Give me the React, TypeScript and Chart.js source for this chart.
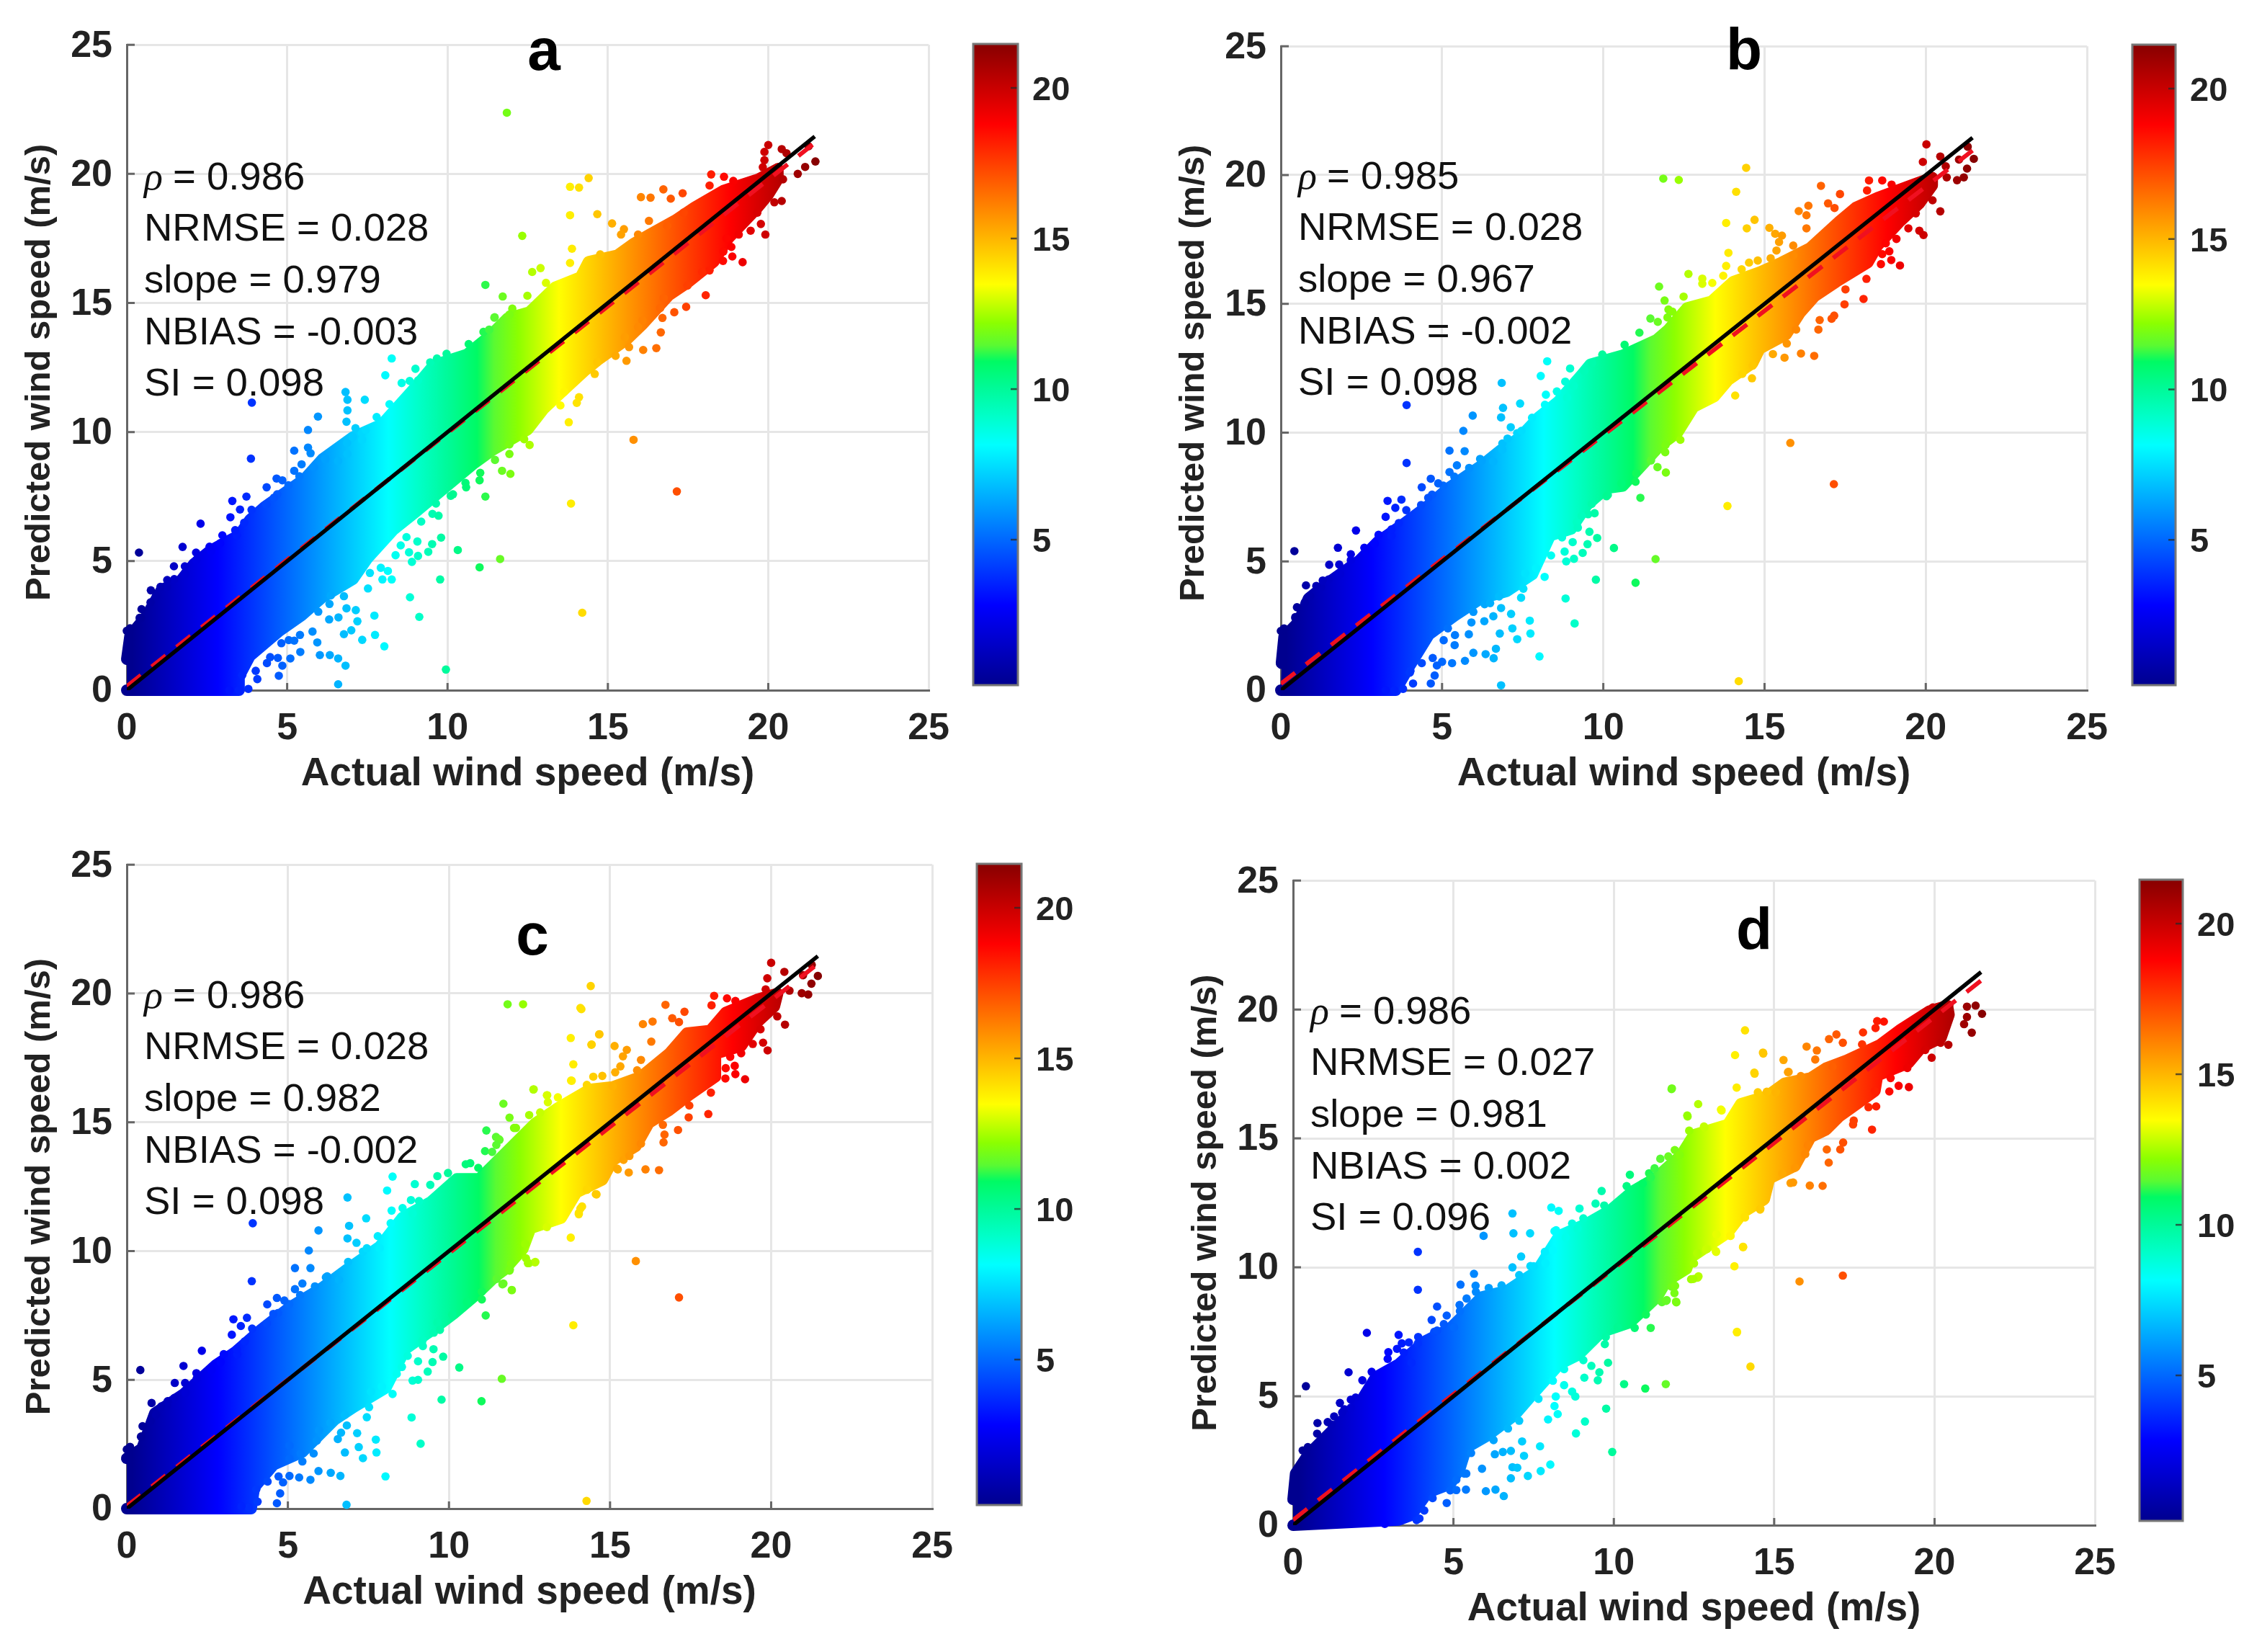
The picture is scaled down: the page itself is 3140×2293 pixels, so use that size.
import { useEffect, useRef } from 'react';
import { Chart, registerables } from 'chart.js';

type Pt = [number, number];

const FONT = '"Liberation Sans", Arial, sans-serif';
const C_MIN = 0.17;
const C_MAX = 21.46;

const barTicks = [5, 10, 15, 20];
const identityLine: Pt[] = [[0, 0], [21.45, 21.45]];
const fitLineA: Pt[] = [[0, 0.15], [21.45, 21.2]];
const fitLineB: Pt[] = [[0, 0.25], [21.45, 20.95]];
const fitLineC: Pt[] = [[0, 0.1], [21.45, 21.15]];
const fitLineD: Pt[] = [[0, 0.2], [21.45, 21.12]];

const statsA = ['= 0.986', 'NRMSE = 0.028', 'slope = 0.979', 'NBIAS = -0.003', 'SI = 0.098'];
const statsB = ['= 0.985', 'NRMSE = 0.028', 'slope = 0.967', 'NBIAS = -0.002', 'SI = 0.098'];
const statsC = ['= 0.986', 'NRMSE = 0.028', 'slope = 0.982', 'NBIAS = -0.002', 'SI = 0.098'];
const statsD = ['= 0.986', 'NRMSE = 0.027', 'slope = 0.981', 'NBIAS = 0.002', 'SI = 0.096'];

// colour scale of the picture: position on the bar, then r, g, b
const colorStops: [number, number, number, number][] = [
  [0, 0, 0, 143], [0.125, 0, 0, 255], [0.375, 0, 255, 255], [0.42, 0, 255, 200], [0.465, 0, 250, 150],
  [0.505, 0, 250, 100], [0.53, 90, 250, 50], [0.565, 140, 255, 0], [0.625, 255, 255, 0],
  [0.875, 255, 0, 0], [1, 135, 0, 0],
];

// outline of the solid part of each cloud
const cloudTopA: Pt[] = [[0, 1.2], [0.1, 2.1], [0.63, 2.9], [0.86, 3.4], [1.09, 3.9], [1.66, 4.2], [2.1, 4.9], [2.6, 5.4], [3.04, 5.7], [3.5, 6], [3.84, 6.6], [4.3, 7.1], [4.99, 7.7], [5.56, 8.2], [6.1, 8.95], [7.05, 9.8], [7.96, 10.3], [8.9, 11.6], [9.58, 12.6], [10.6, 13], [11.3, 13.7], [11.87, 14.4], [12.56, 14.65], [13.35, 15.6], [14.15, 16], [14.4, 16.6], [15.3, 16.85], [15.8, 17.3], [16.3, 17.65], [17.1, 18.2], [17.7, 18.7], [18.6, 19.35], [19.7, 19.8], [20.3, 20.2]];
const cloudBottomA: Pt[] = [[20.3, 19.8], [20, 19.2], [19.6, 18.6], [18.75, 17.5], [18.3, 16.6], [17.5, 15.8], [16.9, 15.3], [16.1, 14.2], [15.6, 13.6], [14.7, 12.8], [14.3, 12.4], [13.6, 11.6], [13, 10.9], [12.5, 10.1], [12.1, 9.8], [11.4, 9.3], [10.84, 8.8], [10.26, 8.2], [9.58, 7.5], [9, 6.9], [8.3, 6.2], [7.5, 5.1], [7.05, 4.3], [6.1, 3.6], [5.45, 2.9], [4.76, 2.3], [3.84, 1.33], [3.5, 0.53], [3.5, 0], [0, 0]];
const cloudTopB: Pt[] = [[0.02, 1.05], [0.1, 2.07], [0.54, 2.63], [0.86, 3.56], [1.5, 4.2], [2.45, 5.05], [3, 5.75], [3.8, 6.45], [4.6, 7.2], [5.2, 7.85], [6.2, 8.7], [6.8, 9.3], [7.4, 9.8], [8, 10.6], [8.6, 11.2], [9.3, 12.2], [9.6, 12.65], [10.6, 13], [11.65, 13.6], [12.02, 14], [12.6, 14.84], [13.36, 15.1], [14.03, 15.86], [14.85, 16.23], [15.52, 16.6], [16.41, 17.16], [17.31, 18.19], [17.83, 18.74], [18.5, 19.12], [19.54, 19.6], [20.2, 19.9]];
const cloudBottomB: Pt[] = [[20.2, 19.6], [19.8, 18.9], [19.2, 18.2], [18.5, 17.26], [18.2, 16.6], [17.23, 15.86], [16.56, 15.3], [16.1, 14.65], [15.67, 13.81], [14.85, 13.26], [14.63, 12.7], [13.88, 12.05], [13.44, 11.4], [12.8, 11], [12.3, 10], [11.76, 9.5], [11.1, 8.6], [10.6, 7.93], [10.1, 7.84], [9.5, 7.2], [9, 6.26], [8.35, 6], [7.8, 4.5], [7, 3.84], [6.2, 3.56], [5.4, 2.9], [4.6, 2.17], [3.96, 0.87], [3.56, 0], [0, 0]];
const cloudTopC: Pt[] = [[0, 1.95], [0.47, 2.33], [0.87, 3.7], [1.76, 4.44], [2.76, 5.57], [3.36, 6.07], [4.16, 6.94], [5.05, 7.81], [6.05, 8.56], [6.85, 9.3], [7.85, 10.17], [8.55, 11.29], [9.44, 11.91], [10.24, 12.8], [10.94, 12.8], [11.83, 13.9], [12.69, 14.97], [13.4, 15.57], [14.36, 16.27], [15.08, 16.37], [15.96, 16.77], [16.84, 17.67], [17.39, 18.46], [18.11, 18.56], [18.59, 19.26], [19.55, 19.76], [20.2, 20]];
const cloudBottomC: Pt[] = [[20.1, 19.5], [19.55, 18.86], [19.07, 17.96], [18.27, 17.66], [18.27, 16.77], [17.47, 16.07], [16.84, 15.47], [16.2, 14.97], [15.8, 14.07], [15.08, 13.52], [14.76, 12.77], [13.96, 12.28], [13.48, 11.28], [12.53, 10.88], [12.29, 10.08], [11.73, 9.28], [11.41, 8.98], [10.84, 8.3], [10.14, 7.56], [9.34, 6.81], [8.64, 6.19], [8.04, 4.69], [7.05, 3.95], [6.45, 3.45], [5.45, 2.2], [4.56, 1.71], [3.96, 0.83], [3.86, 0], [0, 0]];
const cloudTopD: Pt[] = [[0, 1], [0.08, 2], [0.48, 2.75], [0.98, 3.37], [2.08, 4.74], [2.58, 5.74], [3.29, 6.24], [4.09, 7.12], [4.89, 7.62], [5.89, 8.85], [6.69, 9.1], [7.6, 9.85], [8.3, 11.22], [9.2, 11.72], [9.9, 12.22], [10.6, 12.96], [11.3, 13.46], [12.1, 14.35], [12.5, 15.14], [13.56, 15.54], [13.96, 16.34], [14.77, 16.64], [15.33, 17.14], [16.13, 17.34], [16.62, 17.73], [17.26, 18.03], [18.3, 18.63], [18.95, 19.23], [19.83, 19.93], [20.4, 20.15]];
const cloudBottomD: Pt[] = [[20.45, 19.8], [20.2, 18.9], [19.59, 18.53], [19.19, 17.93], [18.22, 17.44], [18.14, 16.84], [17.58, 16.34], [17.02, 15.84], [16.62, 15.34], [16.13, 15.04], [15.65, 13.94], [14.85, 13.44], [14.69, 12.64], [14.04, 12.14], [13.56, 11.35], [12.36, 10.35], [12.27, 9.95], [11.63, 9.45], [11.35, 8.85], [10.5, 7.86], [9.6, 7.48], [8.9, 6.61], [8.3, 6.24], [7.5, 5.12], [6.89, 4.25], [6.09, 3.5], [5.4, 3], [5.2, 2.2], [4.9, 1.6], [4.19, 1.26], [3.69, 0.39], [3.29, 0.2], [0, 0]];

// bumps on the rim of the solid cloud
const rimABC: Pt[] = [[0, 2.3], [0.1, 2.4], [0.45, 2.8], [0.74, 3.4], [0.91, 3.65], [1.25, 4], [1.48, 4.3], [1.82, 4.5], [2.17, 5.05], [2.63, 5.39], [2.91, 5.69], [3.43, 5.99], [3.66, 6.49], [3.89, 6.99], [4.35, 7.19], [4.69, 7.59], [5.04, 7.94], [5.38, 8.29], [5.84, 8.63], [6.18, 8.98], [6.59, 8.88], [6.87, 9.58], [7.33, 9.98], [7.79, 10.58], [8.19, 11.08], [8.82, 11.98], [9.97, 13.03], [10.66, 13.41], [11.12, 13.88], [11.46, 14.43], [12.02, 14.78], [12.49, 15.28], [13.07, 15.78], [3.79, 0.05], [4.02, 0.75], [4.37, 1.05], [4.71, 1.25], [5.05, 1.94], [5.4, 2.14], [5.97, 3.04], [6.32, 3.34], [6.77, 3.64], [7.52, 3.94], [7.58, 4.54], [7.92, 4.74], [8.38, 5.23], [8.72, 5.93], [9.18, 6.53], [9.53, 6.83], [9.64, 7.23], [10.1, 7.53], [10.56, 8.03], [11.02, 8.42], [11.48, 8.92], [11.93, 9.52], [12.39, 9.72]];
const rimD: Pt[] = [[0.3, 2.9], [0.75, 3.55], [1.2, 3.9], [1.6, 4.5], [1.95, 4.95], [2.45, 5.95], [2.95, 6.45], [3.45, 6.7], [3.9, 7.3], [4.4, 7.5], [4.7, 7.8], [5.2, 8.3], [5.7, 9.05], [6.1, 9.2], [6.5, 9.3], [7.05, 9.7], [7.4, 10.05], [7.85, 10.6], [8.15, 11.4], [8.7, 11.7], [9.05, 11.9], [9.7, 12.4], [10.4, 13.15], [11.1, 13.65], [11.9, 14.55], [12.35, 15.3], [3.85, 0.2], [4.35, 1.05], [4.9, 1.35], [5.4, 2], [5.55, 2.8], [6.25, 3.3], [6.7, 3.75], [7.05, 4.05], [7.65, 4.9], [8.1, 5.6], [8.45, 6.05], [9.05, 6.4], [9.75, 7.3], [10.65, 7.65], [11.5, 8.65], [11.8, 9.25], [12.5, 10.15]];

// separate dots around the cloud edge
const dotsA: Pt[] = [[0.38, 5.33], [1.74, 5.55], [2.16, 5.33], [2.3, 6.45], [1.47, 4.8], [1.81, 4.8], [1.81, 4.5], [0.75, 3.87], [1.05, 4], [1.26, 4.27], [0.46, 3.14], [0.4, 2.8], [2.58, 5.56], [2.98, 6], [3.38, 6.2], [3.23, 6.7], [3.53, 7], [3.29, 7.33], [3.73, 7.5], [3.87, 8.97], [3.9, 11.14], [4.36, 7.86], [4.59, 7.46], [4.67, 8.2], [4.85, 8.13], [5.22, 8.5], [5.22, 9.28], [5.65, 9.4], [5.73, 9.18], [5.45, 8.75], [5.65, 10.08], [5.96, 10.6], [6.19, 8.95], [6.88, 9.15], [6.85, 10.4], [7.13, 10.15], [7.45, 10.08], [6.88, 10.84], [7.05, 9.8], [7.34, 9.7], [6.82, 11.55], [6.88, 11.25], [7.42, 11.25], [8.06, 12.2], [8.57, 11.9], [8.26, 12.85], [9.08, 12], [9, 12.45], [9.46, 12.7], [9.67, 12.85], [11.85, 22.37], [12.33, 17.6], [12.9, 16.35], [12.64, 16.2], [11.18, 15.7], [11.72, 15.25], [13.82, 19.5], [13.82, 18.4], [13.88, 17.1], [13.82, 16.55], [11.47, 14.45], [11.93, 14.55], [11.3, 13.97], [14.4, 19.84], [14.1, 19.47], [14.67, 18.44], [14.76, 16.88], [15.13, 18.08], [15.5, 17.86], [15.41, 17.65], [16.03, 19.1], [16.33, 19.08], [16.73, 19.4], [16.96, 19.04], [17.33, 19.25], [16.28, 18.18], [15.94, 17.65], [16.85, 17.99], [17.36, 18.5], [18.22, 19.98], [18.62, 19.89], [18.91, 19.73], [18.17, 19.55], [20, 21.12], [19.88, 20.85], [19.88, 20.53], [19.83, 20.26], [20.42, 20.96], [20.57, 20.8], [21.26, 21.07], [21.47, 20.48], [21.15, 20.27], [20.92, 20], [20.46, 19.79], [20.42, 18.95], [20.19, 18.9], [19.66, 18.5], [19.77, 18.06], [19.91, 17.65], [19.45, 17.8], [19.08, 17.65], [18.7, 17.5], [18.85, 17.17], [18.6, 16.99], [18.59, 16.63], [18.88, 16.8], [19.2, 16.58], [18.17, 16.26], [17.94, 16.2], [17.48, 15.67], [18.05, 15.3], [17.44, 14.85], [16.74, 15.19], [16.63, 14.8], [17.07, 14.64], [16.7, 14.42], [16.65, 13.86], [16.08, 14.32], [15.94, 14.07], [15.53, 13.68], [15.66, 13.29], [16.51, 13.25], [16.1, 13.18], [15.24, 12.95], [15.58, 12.76], [14.67, 12.71], [14.59, 12.25], [14.1, 11.35], [14.03, 11.13], [13.52, 11.03], [13.78, 10.38], [13.64, 11.56], [13.85, 7.23], [12.56, 9.5], [11.93, 9.15], [11.7, 8.5], [11.96, 8.38], [11, 8.13], [11.18, 7.5], [10.58, 7.86], [10.17, 7.59], [9.72, 6.76], [9.8, 5.91], [10.32, 5.43], [11.64, 5.08], [11, 4.76], [9.77, 4.29], [8.83, 3.6], [9.12, 2.84], [9.95, 0.8], [8.89, 4.97], [9.08, 5.2], [9.4, 5.36], [8.8, 5.34], [9.52, 5.66], [9.06, 5.76], [8.54, 5.61], [7.97, 4.29], [8.26, 4.29], [8.14, 4.62], [7.72, 2.89], [7.19, 2.67], [7.14, 3.1], [7.74, 2.14], [7.34, 1.95], [8.03, 1.7], [6.77, 2.17], [7, 2.32], [6.82, 0.95], [6.59, 1.23], [6.33, 1.36], [6.02, 1.36], [5.94, 1.85], [5.79, 2.27], [6.31, 2.74], [6.6, 2.82], [6.85, 3.17], [6.36, 3.67], [6.59, 0.23], [5.41, 1.48], [5.1, 1.23], [4.85, 0.95], [4.74, 0.56], [4.07, 0.43], [4.47, 1.28], [5.22, 1.92], [4.82, 1.82], [3.5, 0], [3.2, 0], [3.6, 0.58], [15.8, 9.7], [17.15, 7.7], [14.2, 3]];
const dotsB: Pt[] = [[0.42, 5.4], [1.77, 5.53], [2.17, 5.28], [2.59, 5.53], [2.33, 6.2], [1.5, 4.87], [1.81, 4.88], [1.84, 4.52], [0.78, 4.07], [1.1, 4.05], [1.3, 4.26], [0.5, 3.22], [0.45, 2.84], [3.03, 6.03], [3.43, 6.24], [3.25, 6.73], [3.55, 7.08], [3.31, 7.35], [3.74, 7.4], [3.9, 8.82], [3.9, 11.07], [4.37, 7.88], [4.57, 7.47], [4.65, 8.21], [4.88, 8.03], [5.23, 8.47], [5.23, 9.3], [5.7, 9.28], [5.66, 10.07], [5.95, 10.66], [5.46, 8.73], [6.23, 8.91], [6.83, 10.59], [6.89, 10.96], [6.85, 11.93], [7.42, 11.13], [7.13, 10.21], [7.46, 10.07], [6.87, 9.33], [7.03, 9.77], [8.06, 12.2], [8.56, 11.6], [8.22, 11.47], [8.88, 11.36], [9.08, 11.82], [8.97, 12.49], [9.41, 12.4], [8.26, 12.77], [9.65, 12.7], [11.92, 9.24], [11.68, 8.66], [11.94, 8.45], [11, 8.09], [11.15, 7.47], [10.14, 7.58], [9.73, 6.87], [9.33, 6.77], [9.21, 6.31], [9.57, 6.15], [9.81, 5.91], [10.33, 5.52], [11.62, 5.09], [11, 4.17], [9.77, 4.29], [8.83, 3.56], [9.11, 2.59], [8.02, 1.31], [9.51, 5.67], [9.05, 5.75], [9.36, 5.33], [9.09, 5.1], [8.85, 5], [8.8, 5.38], [8.18, 4.4], [7.45, 3.59], [7.14, 2.96], [7.72, 2.7], [7.74, 2.2], [7.33, 1.98], [6.79, 2.2], [7.18, 2.4], [6.83, 3.19], [6.59, 2.87], [6.49, 3.38], [6.67, 1.61], [6.6, 1.24], [6.35, 1.4], [5.97, 1.45], [5.71, 1.14], [6.83, 0.19], [5.83, 2.17], [5.31, 1.05], [5, 1.1], [4.84, 0.96], [4.77, 0.57], [4.65, 0.26], [4.1, 0.26], [3.52, 0], [3.25, 0], [4, 0.68], [5.39, 1.75], [5.18, 2.4], [5.91, 2.63], [6.31, 2.68], [11.86, 19.86], [12.34, 19.81], [14.43, 20.28], [14.12, 19.35], [13.81, 18.14], [14.69, 18.26], [14.45, 17.93], [13.88, 16.98], [13.81, 16.47], [12.64, 16.16], [13.07, 15.98], [13.72, 16.09], [11.73, 15.67], [11.9, 15.13], [12.14, 14.7], [11.99, 14.47], [11.69, 14.3], [13.38, 15.81], [16.75, 19.58], [17.34, 19.26], [16.97, 18.9], [17.17, 18.72], [16.36, 18.81], [16.06, 18.6], [16.3, 18.44], [16.3, 17.93], [15.15, 17.95], [15.33, 17.72], [15.54, 17.65], [15.45, 17.4], [15.37, 17.07], [15.19, 16.77], [14.79, 16.68], [14.52, 16.6], [14.29, 16.34], [15.89, 17.26], [15.89, 16.88], [18.24, 19.79], [18.65, 19.79], [18.94, 19.63], [18.18, 19.4], [20.02, 21.19], [19.91, 20.51], [20.45, 20.72], [20.62, 20.34], [21.3, 21.1], [21.49, 20.63], [21.03, 20.6], [21.28, 20.25], [21.18, 19.91], [20.97, 19.8], [20.65, 19.91], [20.45, 18.59], [20.21, 19.02], [19.69, 18.51], [19.46, 17.93], [19.8, 17.84], [19.93, 17.67], [19.09, 17.52], [18.76, 17.35], [18.87, 17.04], [18.65, 16.93], [18.93, 16.7], [18.61, 16.54], [19.2, 16.49], [18.16, 15.97], [17.51, 15.56], [17.48, 14.98], [18.07, 15.19], [17.16, 14.54], [17.08, 14.42], [16.71, 14.37], [16.67, 14], [15.98, 14], [15.69, 13.46], [15.26, 13.05], [15.62, 12.91], [16.13, 13.07], [16.54, 12.98], [14.31, 12.28], [14.61, 12.11], [14.09, 11.44], [14.63, 12.6], [15.8, 9.6], [17.15, 8], [13.85, 7.15], [14.2, 0.35]];
const dotsC: Pt[] = [[0.42, 5.38], [1.76, 5.54], [2.16, 5.26], [2.33, 6.13], [1.49, 4.88], [1.81, 4.88], [1.83, 4.51], [0.77, 4.1], [1.07, 3.97], [1.27, 4.17], [0.49, 3.2], [0.44, 2.79], [3.01, 6], [3.41, 6.19], [3.26, 6.75], [3.54, 7.09], [3.31, 7.35], [3.73, 7.41], [3.88, 8.83], [3.91, 11.08], [4.36, 7.93], [4.55, 7.56], [4.66, 8.18], [4.89, 8.08], [5.22, 8.52], [5.22, 9.34], [5.7, 9.34], [5.65, 10.02], [5.95, 10.8], [5.45, 8.74], [6.22, 9.02], [6.85, 10.49], [6.9, 10.98], [6.85, 12.08], [7.43, 11.27], [7.13, 10.32], [7.45, 10.11], [7.85, 10.11], [8.08, 12.35], [8.22, 11.57], [8.56, 11.67], [8.87, 11.46], [9.07, 11.94], [8.25, 12.89], [8.94, 12.6], [9.42, 12.57], [9.64, 12.91], [10.52, 13.37], [10.91, 13.23], [11.16, 14.68], [11.69, 15.72], [11.88, 15.18], [12.08, 14.78], [11.54, 14.35], [11.34, 13.85], [12.63, 16.28], [13.05, 16.05], [13.38, 15.97], [12.83, 15.38], [13.78, 18.27], [13.86, 17.25], [13.81, 16.61], [14.11, 19.39], [14.67, 18.42], [14.43, 18.02], [9.82, 5.9], [10.32, 5.48], [11.64, 5.04], [11.01, 4.17], [9.77, 4.23], [8.84, 3.54], [9.12, 2.52], [8.03, 1.25], [6.82, 0.15], [14.27, 0.3], [13.86, 7.12], [13.78, 10.52], [11.14, 7.5], [11.02, 8.12], [11.69, 8.74], [11.95, 8.49], [12.48, 9.53], [12.68, 9.58], [11.88, 9.24], [9.49, 5.69], [9.34, 5.32], [9.19, 6.31], [9.52, 6.19], [9.72, 6.94], [9.04, 5.72], [8.87, 4.97], [9.04, 5], [8.54, 5.5], [8.25, 4.45], [7.45, 3.55], [7.15, 2.93], [7.73, 2.68], [7.75, 2.18], [7.33, 1.96], [6.77, 2.18], [7.2, 2.39], [6.83, 3.23], [6.55, 2.7], [6.65, 2.95], [6.63, 1.27], [6.33, 1.39], [5.95, 1.46], [5.7, 1.12], [5.8, 2.14], [5.35, 1.21], [5.05, 1.27], [4.85, 1.02], [4.76, 0.59], [4.66, 0.21], [4.06, 0.27], [3.56, 0.09], [5.45, 1.83], [5.05, 2.45], [5.9, 2.64], [14.03, 11.48], [14.13, 11.73], [14.58, 12.2], [14.28, 12.38], [15.22, 13.2], [15.42, 13.54], [11.82, 19.58], [12.3, 19.58], [14.4, 20.29], [14.08, 19.44], [14.66, 18.41], [14.42, 18.01], [13.79, 16.62], [12.62, 16.27], [13.04, 16.05], [11.57, 14.32], [11.47, 14.12], [16.72, 19.56], [17.31, 19.29], [16.93, 19.04], [17.14, 18.89], [16.32, 18.91], [16.02, 18.81], [16.28, 18.13], [15.14, 17.96], [15.52, 17.81], [15.4, 17.56], [15.32, 17.17], [15.16, 16.94], [14.76, 16.8], [14.48, 16.77], [14.28, 16.45], [15.96, 17.42], [15.84, 17.02], [15.08, 16.4], [18.23, 19.91], [18.63, 19.81], [18.89, 19.71], [18.15, 19.54], [20, 21.19], [19.88, 20.59], [20.41, 20.84], [19.83, 20.16], [21.26, 21.11], [21.45, 20.68], [20.99, 20.71], [21.25, 20.38], [21.15, 19.96], [20.95, 20.01], [20.57, 20.11], [20.43, 18.79], [20.19, 19.11], [19.67, 18.61], [19.75, 18.09], [19.89, 17.79], [19.43, 18.04], [19.07, 17.68], [18.73, 17.54], [18.87, 17.19], [18.59, 17.1], [18.89, 16.87], [18.58, 16.7], [19.19, 16.67], [18.13, 16.15], [17.46, 15.65], [17.44, 15.19], [18.05, 15.32], [17.11, 14.7], [16.64, 14.9], [16.69, 14.52], [16.66, 14.22], [15.96, 14.17], [15.6, 13.69], [15.24, 13.17], [15.58, 13.05], [16.1, 13.17], [16.52, 13.14], [14.28, 12.38], [14.56, 12.21], [14.08, 11.65], [14.03, 11.43], [13.04, 10.93], [12.67, 9.56], [12.45, 9.53], [12.37, 10.28], [11.89, 9.28], [11.66, 8.71], [11.95, 8.48], [15.8, 9.61], [17.14, 8.2]];
const dotsD: Pt[] = [[0.4, 5.39], [1.73, 5.93], [2.16, 5.62], [2.3, 7.46], [3.29, 7.38], [1.46, 4.74], [1.8, 4.87], [1.8, 4.56], [0.76, 3.96], [1.08, 4], [1.28, 4.22], [1.53, 4.37], [0.46, 3.03], [0.4, 2.75], [2.97, 6.71], [3.24, 6.84], [3.39, 7.05], [3.61, 7.09], [3.89, 7.05], [3.69, 6.3], [3.89, 9.13], [3.89, 10.6], [5.94, 11.22], [5.64, 9.75], [5.69, 9.29], [5.22, 9.33], [5.41, 8.79], [5.19, 8.54], [4.49, 8.48], [4.32, 7.96], [4.79, 8.13], [4.49, 7.55], [5.02, 7.67], [6.84, 12.09], [6.87, 11.32], [7.39, 11.32], [7.11, 10.42], [6.84, 10], [7.5, 10.04], [7.87, 10.16], [8.2, 11.44], [8.05, 12.32], [8.28, 12.19], [8.87, 11.51], [8.93, 12.28], [9.43, 12.47], [9.62, 12.96], [8.5, 11.16], [8.1, 10.66], [10.5, 13.59], [10.9, 13.25], [11.15, 13.49], [11.27, 13.84], [11.45, 14.21], [11.7, 14.3], [12.05, 14.36], [11.8, 16.91], [12.63, 16.33], [12.3, 15.85], [12.83, 15.43], [13.36, 16.08], [14.09, 19.19], [13.78, 18.23], [14.66, 18.29], [14.39, 17.51], [13.83, 16.97], [15.29, 18.04], [15.43, 17.57], [13.76, 10.04], [14.03, 10.78], [13.63, 11.22], [13.2, 11.28], [12.91, 10.72], [13.19, 10.6], [12.61, 10.54], [14.09, 11.93], [14.56, 12.24], [15.51, 13.27], [12.61, 9.6], [12.41, 9.54], [11.9, 9.29], [11.65, 8.73], [11.95, 8.64], [11, 8.17], [11.15, 7.65], [10.12, 7.67], [9.72, 7.02], [9.82, 6.3], [9.55, 5.93], [9.5, 5.62], [9.3, 6.18], [9.08, 5.72], [8.7, 5.18], [8.8, 4.99], [8.45, 5.43], [8.19, 4.99], [9.76, 4.52], [9.1, 4.02], [8.82, 3.56], [9.95, 2.84], [10.32, 5.47], [10.98, 5.3], [11.62, 5.47], [13.84, 7.48], [14.26, 6.15], [8.25, 4.31], [8.15, 4.62], [7.95, 4.1], [7.7, 3.06], [7.2, 2.69], [7.14, 3.25], [8.02, 2.35], [7.72, 2.1], [7.32, 1.91], [6.84, 2.25], [6.99, 2.23], [6.79, 1.82], [6.57, 1.13], [6.31, 1.38], [6.01, 1.32], [6.79, 2.88], [6.54, 2.84], [6.29, 2.75], [5.39, 1.38], [5.09, 1.36], [4.79, 0.86], [4.09, 0.57], [3.94, 0.26], [2.86, 0.05], [5.89, 2.19], [5.34, 2], [5.09, 1.76], [14.65, 18.33], [14.38, 17.55], [11.81, 16.94], [12.29, 15.89], [13.34, 16.12], [12.81, 15.46], [16.01, 18.56], [16.33, 18.41], [16.28, 18.06], [16.71, 18.85], [16.94, 19.03], [17.14, 18.71], [17.74, 18.65], [17.77, 19.11], [18.21, 19.55], [18.42, 19.53], [18.16, 19.28], [15.45, 17.58], [15.83, 17.42], [15.05, 16.79], [14.77, 16.81], [14.49, 16.79], [16.82, 17.78], [19.95, 20.08], [20.46, 20.18], [21.01, 20.11], [21.28, 20.15], [21.48, 19.83], [21.01, 19.71], [20.92, 19.43], [21.16, 19.1], [20.43, 18.63], [20.19, 18.71], [19.71, 18.43], [19.91, 18.13], [19.15, 17.73], [18.63, 17.34], [18.88, 17.04], [19.2, 16.99], [18.59, 16.82], [18.14, 16.84], [18.18, 16.24], [17.94, 16.21], [17.48, 15.69], [17.46, 15.54], [18.05, 15.34], [17.15, 14.84], [17.06, 14.57], [16.64, 14.57], [16.7, 14.06], [16.05, 14.74], [15.97, 14.39], [15.65, 13.86], [15.25, 13.64], [15.59, 13.29], [16.11, 13.17], [16.51, 13.16], [14.57, 12.27], [14.08, 11.95], [13.64, 11.22], [14.03, 10.8], [13.18, 10.63], [12.88, 10.7], [12.6, 10.55], [12.64, 9.65], [12.48, 9.55], [11.91, 9.28], [11.89, 9], [11.63, 8.7], [11.94, 8.67], [15.79, 9.45], [17.14, 9.68], [13.84, 7.5]];

const Y_TITLE = 'Predicted wind speed (m/s)';

const panels = [
  { letter: 'a', stats: statsA, top: cloudTopA, bottom: cloudBottomA, dots: dotsA, rim: rimABC, fit: fitLineA, yTitle: Y_TITLE + '\u00a0', x: 176, y: 61, w: 1114, h: 897, letterX: 579, letterY: 35, textDy: 1, barX: 1351, barY: 61, barW: 62, barH: 890 },
  { letter: 'b', stats: statsB, top: cloudTopB, bottom: cloudBottomB, dots: dotsB, rim: rimABC, fit: fitLineB, yTitle: Y_TITLE + '\u00a0', x: 1778, y: 63, w: 1120, h: 895, letterX: 643, letterY: 32, textDy: -2, barX: 2960, barY: 62, barW: 60, barH: 889 },
  { letter: 'c', stats: statsC, top: cloudTopC, bottom: cloudBottomC, dots: dotsC, rim: rimABC, fit: fitLineC, yTitle: Y_TITLE, x: 176, y: 1199, w: 1119, h: 895, letterX: 563, letterY: 125, textDy: -1, barX: 1356, barY: 1199, barW: 62, barH: 890 },
  { letter: 'd', stats: statsD, top: cloudTopD, bottom: cloudBottomD, dots: dotsD, rim: rimD, fit: fitLineD, yTitle: Y_TITLE, x: 1795, y: 1221, w: 1114, h: 896, letterX: 640, letterY: 95, textDy: -1, barX: 2970, barY: 1221, barW: 60, barH: 890 },
];

function speedColor(s: number) {
  const t = Math.max(0, Math.min(1, (s - C_MIN) / (C_MAX - C_MIN)));
  let i = 0;
  while (i < colorStops.length - 2 && t > colorStops[i + 1][0]) i++;
  const a = colorStops[i];
  const b = colorStops[i + 1];
  const k = (t - a[0]) / (b[0] - a[0]);
  const mix = (n: number) => Math.round(a[n] + (b[n] - a[n]) * k);
  return `rgb(${mix(1)},${mix(2)},${mix(3)})`;
}

function scaleGradient(ctx: CanvasRenderingContext2D, x0: number, y0: number, x1: number, y1: number) {
  if (![x0, y0, x1, y1].every(Number.isFinite)) return 'transparent';
  const g = ctx.createLinearGradient(x0, y0, x1, y1);
  colorStops.forEach(([t, r, gr, b]) => g.addColorStop(t, `rgb(${r},${gr},${b})`));
  return g;
}

const asXY = (pts: Pt[]) => pts.map(([x, y]) => ({ x, y }));

const ML = 170;
const MT = 50;
const MR = 50;
const MB = 150;
const BAR_PAD = 50;

function Panel({ p }: { p: (typeof panels)[number] }) {
  const plotEl = useRef<HTMLCanvasElement>(null);
  const barEl = useRef<HTMLCanvasElement>(null);

  useEffect(() => {
    Chart.register(...registerables);

    const axisOpts = (title: string, titleSize: number, padTop: number, tickPad: number, labelOffset: number, fit: (s: any) => void) => ({
      type: 'linear' as const,
      min: 0,
      max: 25,
      afterFit: fit,
      ticks: { stepSize: 5, padding: tickPad, labelOffset, color: '#222', font: { family: FONT, size: 52, weight: 'bold' as const }, maxRotation: 0 },
      grid: { color: '#e6e6e6', lineWidth: 3, drawTicks: false },
      border: { color: '#666', width: 3 },
      title: { display: true, text: title, color: '#222', padding: { top: padTop, bottom: 0 }, font: { family: FONT, size: titleSize, weight: 'bold' as const } },
    });

    const overlay = {
      id: 'overlay',
      afterDraw(chart: any) {
        const { ctx, scales, chartArea } = chart;
        ctx.save();
        ctx.strokeStyle = '#666';
        ctx.lineWidth = 3;
        for (let v = 5; v <= 25; v += 5) {
          const xp = scales.x.getPixelForValue(v);
          const yp = scales.y.getPixelForValue(v);
          ctx.beginPath();
          if (v < 25) {
            ctx.moveTo(xp, chartArea.bottom);
            ctx.lineTo(xp, chartArea.bottom - 10);
          }
          ctx.moveTo(chartArea.left, yp);
          ctx.lineTo(chartArea.left + 11, yp);
          ctx.stroke();
        }
        ctx.fillStyle = '#111';
        ctx.textBaseline = 'alphabetic';
        const tx = chartArea.left + 24;
        const rows = [200, 271, 343, 415, 486];
        p.stats.forEach((line, i) => {
          const ty = chartArea.top + rows[i] + p.textDy;
          ctx.textAlign = 'left';
          if (i === 0) {
            ctx.font = 'italic 54px "Liberation Serif", serif';
            ctx.fillText('\u03c1', tx, ty);
            const rw = ctx.measureText('\u03c1').width;
            ctx.font = `54.5px ${FONT}`;
            ctx.fillText(line, tx + rw + 14, ty);
          } else {
            ctx.font = `54.5px ${FONT}`;
            ctx.fillText(line, tx, ty);
          }
        });
        ctx.fillStyle = '#000';
        ctx.textAlign = 'center';
        ctx.font = `bold 82px ${FONT}`;
        ctx.fillText(p.letter, chartArea.left + p.letterX, chartArea.top + p.letterY);
        ctx.restore();
      },
    };

    const cloudFill = (c: any) => {
      const { ctx, scales } = c.chart;
      if (!scales.x) return 'transparent';
      return scaleGradient(ctx, scales.x.getPixelForValue(C_MIN), 0, scales.x.getPixelForValue(C_MAX), 0);
    };

    const plot = new Chart(plotEl.current as HTMLCanvasElement, {
      type: 'scatter',
      data: {
        datasets: [
          {
            label: 'Identity',
            data: asXY(identityLine),
            showLine: true,
            borderColor: '#000',
            borderWidth: 5.5,
            pointRadius: 0,
            order: 0,
          },
          {
            label: 'Fit',
            data: asXY(p.fit),
            showLine: true,
            borderColor: '#f01020',
            borderWidth: 6,
            borderDash: [25, 19],
            pointRadius: 0,
            order: 1,
          },
          {
            label: 'Dots',
            data: asXY([...p.rim, ...p.dots]),
            pointRadius: 5.8,
            pointBorderWidth: 0,
            pointBackgroundColor: (c: any) => speedColor(c.raw ? c.raw.x : 0),
            clip: false,
            order: 2,
          },
          {
            label: 'Cloud',
            data: asXY([...p.top, ...p.bottom]),
            showLine: true,
            fill: 'shape',
            borderWidth: 16,
            borderJoinStyle: 'round',
            borderCapStyle: 'round',
            borderColor: cloudFill,
            backgroundColor: cloudFill,
            pointRadius: 0,
            clip: false,
            order: 3,
          },
        ],
      } as any,
      options: {
        animation: false,
        responsive: false,
        devicePixelRatio: 1,
        layout: { padding: { left: 0, top: MT, right: MR, bottom: 0 } },
        plugins: { legend: { display: false }, tooltip: { enabled: false } },
        scales: {
          x: axisOpts('Actual wind speed (m/s)', 55, 82, 22, 0, (s: any) => { s.height = MB; }),
          y: axisOpts(p.yTitle, 49, 20, 20, 2, (s: any) => { s.width = ML; }),
        },
      } as any,
      plugins: [overlay],
    });

    const barOverlay = {
      id: 'barOverlay',
      afterDraw(chart: any) {
        const { ctx, scales, chartArea } = chart;
        ctx.save();
        ctx.strokeStyle = 'rgba(40,40,40,0.75)';
        ctx.lineWidth = 2.5;
        barTicks.forEach((v) => {
          const yp = scales.y.getPixelForValue(v);
          ctx.beginPath();
          ctx.moveTo(chartArea.right - 10, yp);
          ctx.lineTo(chartArea.right, yp);
          ctx.stroke();
        });
        ctx.strokeStyle = '#777';
        ctx.lineWidth = 3;
        ctx.strokeRect(chartArea.left, chartArea.top, chartArea.right - chartArea.left, chartArea.bottom - chartArea.top);
        ctx.restore();
      },
    };

    const bar = new Chart(barEl.current as HTMLCanvasElement, {
      type: 'bar',
      data: {
        labels: ['speed'],
        datasets: [{
          label: 'Colour scale',
          data: [[C_MIN, C_MAX]],
          barPercentage: 1,
          categoryPercentage: 1,
          borderWidth: 0,
          backgroundColor: (c: any) => {
            const { ctx, scales } = c.chart;
            if (!scales.y) return 'transparent';
            return scaleGradient(ctx, 0, scales.y.getPixelForValue(C_MIN), 0, scales.y.getPixelForValue(C_MAX));
          },
        }],
      } as any,
      options: {
        animation: false,
        responsive: false,
        devicePixelRatio: 1,
        layout: { padding: { left: 4, top: BAR_PAD, right: 0, bottom: BAR_PAD } },
        plugins: { legend: { display: false }, tooltip: { enabled: false } },
        scales: {
          x: { display: false },
          y: {
            position: 'right',
            min: C_MIN,
            max: C_MAX,
            afterFit: (s: any) => { s.width = 90; },
            afterBuildTicks: (s: any) => { s.ticks = barTicks.map((value) => ({ value })); },
            ticks: { padding: 20, labelOffset: 4, color: '#222', font: { family: FONT, size: 47, weight: 'bold' } },
            grid: { display: false, drawTicks: false },
            border: { display: false },
          },
        },
      } as any,
      plugins: [barOverlay],
    });

    return () => {
      plot.destroy();
      bar.destroy();
    };
  }, [p]);

  return (
    <>
      <canvas
        ref={plotEl}
        width={p.w + ML + MR}
        height={p.h + MT + MB}
        style={{ position: 'absolute', left: p.x - ML, top: p.y - MT }}
      />
      <canvas
        ref={barEl}
        width={p.barW + 94}
        height={p.barH + BAR_PAD * 2}
        style={{ position: 'absolute', left: p.barX - 4, top: p.barY - BAR_PAD }}
      />
    </>
  );
}

export default function App() {
  return (
    <div style={{ position: 'absolute', left: 0, top: 0, width: 3140, height: 2293, background: '#fff', overflow: 'hidden' }}>
      {panels.map((p) => <Panel key={p.letter} p={p} />)}
    </div>
  );
}
